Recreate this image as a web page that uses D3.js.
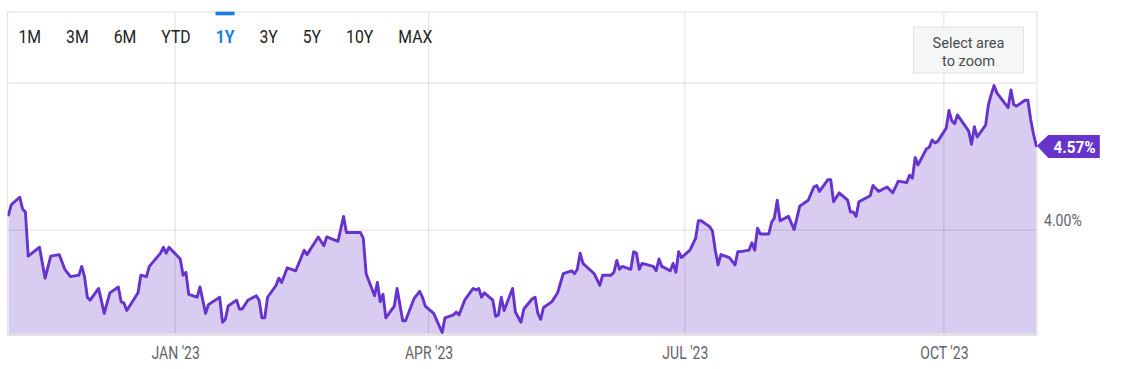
<!DOCTYPE html>
<html><head><meta charset="utf-8">
<script src="https://cdn.jsdelivr.net/npm/d3@7"></script>
<style>body{margin:0;background:#fff;} svg{display:block;font-family:Roboto,"Noto Sans",sans-serif;}</style>
</head><body><svg id="c" width="1147" height="369"></svg>
<script>
const dates = ["2022-11-03","2022-11-04","2022-11-07","2022-11-08","2022-11-09","2022-11-10","2022-11-14","2022-11-16","2022-11-18","2022-11-21","2022-11-23","2022-11-25","2022-11-28","2022-11-29","2022-11-30","2022-12-01","2022-12-02","2022-12-05","2022-12-07","2022-12-09","2022-12-12","2022-12-13","2022-12-14","2022-12-15","2022-12-19","2022-12-20","2022-12-22","2022-12-23","2022-12-27","2022-12-28","2022-12-29","2022-12-30","2023-01-03","2023-01-04","2023-01-05","2023-01-06","2023-01-09","2023-01-10","2023-01-12","2023-01-13","2023-01-17","2023-01-18","2023-01-19","2023-01-20","2023-01-23","2023-01-24","2023-01-25","2023-01-27","2023-01-30","2023-01-31","2023-02-01","2023-02-02","2023-02-03","2023-02-06","2023-02-07","2023-02-08","2023-02-10","2023-02-13","2023-02-16","2023-02-17","2023-02-21","2023-02-23","2023-02-24","2023-02-28","2023-03-02","2023-03-03","2023-03-06","2023-03-08","2023-03-09","2023-03-10","2023-03-13","2023-03-14","2023-03-15","2023-03-16","2023-03-17","2023-03-20","2023-03-21","2023-03-23","2023-03-24","2023-03-27","2023-03-29","2023-03-30","2023-03-31","2023-04-03","2023-04-06","2023-04-07","2023-04-10","2023-04-11","2023-04-12","2023-04-14","2023-04-17","2023-04-18","2023-04-19","2023-04-20","2023-04-21","2023-04-24","2023-04-25","2023-04-26","2023-04-27","2023-04-28","2023-05-01","2023-05-02","2023-05-04","2023-05-05","2023-05-08","2023-05-09","2023-05-10","2023-05-11","2023-05-12","2023-05-15","2023-05-17","2023-05-19","2023-05-22","2023-05-23","2023-05-24","2023-05-25","2023-05-26","2023-05-30","2023-06-01","2023-06-02","2023-06-05","2023-06-06","2023-06-07","2023-06-08","2023-06-09","2023-06-12","2023-06-13","2023-06-14","2023-06-15","2023-06-16","2023-06-20","2023-06-21","2023-06-22","2023-06-23","2023-06-26","2023-06-27","2023-06-28","2023-06-29","2023-06-30","2023-07-03","2023-07-05","2023-07-06","2023-07-07","2023-07-10","2023-07-11","2023-07-12","2023-07-13","2023-07-14","2023-07-17","2023-07-19","2023-07-20","2023-07-21","2023-07-24","2023-07-25","2023-07-26","2023-07-27","2023-07-28","2023-07-31","2023-08-01","2023-08-02","2023-08-03","2023-08-04","2023-08-07","2023-08-09","2023-08-11","2023-08-14","2023-08-16","2023-08-17","2023-08-18","2023-08-21","2023-08-22","2023-08-23","2023-08-25","2023-08-28","2023-08-29","2023-08-30","2023-08-31","2023-09-01","2023-09-05","2023-09-06","2023-09-08","2023-09-11","2023-09-13","2023-09-15","2023-09-18","2023-09-19","2023-09-20","2023-09-21","2023-09-22","2023-09-25","2023-09-26","2023-09-27","2023-09-28","2023-09-29","2023-10-02","2023-10-03","2023-10-04","2023-10-05","2023-10-06","2023-10-10","2023-10-11","2023-10-12","2023-10-13","2023-10-16","2023-10-17","2023-10-18","2023-10-19","2023-10-20","2023-10-24","2023-10-25","2023-10-26","2023-10-27","2023-10-30","2023-10-31","2023-11-01","2023-11-02","2023-11-03"];
const values = [4.10,4.17,4.22,4.14,4.12,3.82,3.88,3.67,3.82,3.83,3.73,3.68,3.69,3.75,3.68,3.54,3.52,3.60,3.43,3.57,3.61,3.51,3.50,3.45,3.57,3.69,3.68,3.75,3.84,3.88,3.84,3.88,3.80,3.69,3.71,3.56,3.54,3.61,3.43,3.49,3.54,3.37,3.39,3.48,3.52,3.46,3.46,3.52,3.55,3.52,3.40,3.40,3.54,3.62,3.67,3.64,3.74,3.72,3.86,3.83,3.95,3.89,3.95,3.92,4.09,3.98,3.98,3.98,3.94,3.70,3.55,3.64,3.51,3.56,3.40,3.48,3.60,3.38,3.38,3.53,3.58,3.54,3.48,3.43,3.30,3.40,3.42,3.44,3.42,3.52,3.60,3.59,3.60,3.54,3.57,3.52,3.41,3.42,3.54,3.45,3.60,3.44,3.37,3.46,3.53,3.54,3.43,3.39,3.47,3.51,3.57,3.70,3.72,3.70,3.73,3.84,3.77,3.70,3.62,3.69,3.69,3.71,3.79,3.73,3.75,3.73,3.85,3.84,3.73,3.77,3.75,3.72,3.80,3.75,3.72,3.77,3.71,3.85,3.81,3.86,3.94,4.06,4.06,4.02,3.99,3.86,3.76,3.83,3.81,3.76,3.85,3.85,3.86,3.91,3.86,4.01,3.97,3.97,4.05,4.08,4.20,4.06,4.09,4.00,4.16,4.20,4.29,4.30,4.26,4.34,4.34,4.19,4.25,4.20,4.12,4.12,4.09,4.19,4.23,4.30,4.26,4.29,4.25,4.33,4.32,4.37,4.35,4.49,4.44,4.55,4.56,4.61,4.59,4.60,4.69,4.81,4.74,4.72,4.78,4.67,4.58,4.70,4.63,4.71,4.85,4.92,4.98,4.93,4.83,4.95,4.85,4.84,4.88,4.88,4.75,4.65,4.57];
const rangeButtons = ["1M","3M","6M","YTD","1Y","3Y","5Y","10Y","MAX"];
const activeButton = "1Y";
const xTickDates = ["2023-01-01","2023-04-01","2023-07-01","2023-10-01"];
const yGridValues = [4.0, 5.0];
const yLabelValues = [4.0];
const zoomHint = ["Select area", "to zoom"];

const parse = d3.timeParse("%Y-%m-%d");
const data = dates.map((d, i) => ({ date: parse(d), value: values[i] }));

const svg = d3.select("#c");
const L = 7.5, R = 1037, T = 12, B = 334;
const x = d3.scaleTime().domain([data[0].date, data[data.length - 1].date]).range([8.5, 1036.3]);
const y = d3.scaleLinear().domain([3.29, 5.48]).range([B, T]);

const purple = "#6633cc";
const grid = "rgba(0,0,0,0.1)";

function txt(g, px, py, s, size, sx, anchor, fill, weight) {
  return g.append("text")
    .attr("transform", `translate(${px},${py}) scale(${sx},1)`)
    .attr("text-anchor", anchor)
    .attr("font-size", size)
    .attr("font-weight", weight || 400)
    .attr("fill", fill)
    .text(s);
}

// area + line
svg.append("defs").append("clipPath").attr("id", "clip")
  .append("rect").attr("x", L).attr("y", T).attr("width", R - L).attr("height", B - T);

const area = d3.area().x(d => x(d.date)).y0(B).y1(d => y(d.value));
const line = d3.line().x(d => x(d.date)).y(d => y(d.value));

svg.append("path").datum(data).attr("clip-path", "url(#clip)")
  .attr("d", area).attr("fill", "#d8ccf0");

// grid lines (vertical via axis)
const xg = svg.append("g").attr("transform", `translate(0,${B})`)
  .call(d3.axisBottom(x).tickValues(xTickDates.map(parse)).tickSize(-(B - T)).tickFormat(""));
xg.select(".domain").remove();
xg.selectAll(".tick line").attr("stroke", grid).attr("stroke-width", 1.2);

const yg = svg.append("g").attr("transform", `translate(${R},0)`)
  .call(d3.axisRight(y).tickValues(yGridValues).tickSize(-(R - L)).tickFormat(""));
yg.select(".domain").remove();
yg.selectAll(".tick line").attr("stroke", grid).attr("stroke-width", 1.2);

// frame
svg.append("rect").attr("x", L).attr("y", T).attr("width", R - L).attr("height", B - T)
  .attr("fill", "none").attr("stroke", "#e4e4e4").attr("stroke-width", 1.2);
svg.append("line").attr("x1", L).attr("x2", R).attr("y1", B + 1).attr("y2", B + 1)
  .attr("stroke", "#e2e2e2").attr("stroke-width", 2.2);

svg.append("path").datum(data).attr("clip-path", "url(#clip)")
  .attr("d", line).attr("fill", "none").attr("stroke", purple)
  .attr("stroke-width", 2.9).attr("stroke-linejoin", "round").attr("stroke-linecap", "round");

// x labels
const fmtX = d => d3.timeFormat("%b")(d).toUpperCase() + " '" + d3.timeFormat("%y")(d);
xTickDates.map(parse).forEach(d => {
  txt(svg, x(d) + 1, 359, fmtX(d), 17.5, 0.8, "middle", "#5f6368");
});

// y labels
yLabelValues.forEach(v => {
  txt(svg, 1044, y(v) - 3.5, d3.format(".2f")(v) + "%", 16, 0.88, "start", "#5f6368");
});

// range buttons
const bg = svg.append("g");
let cx = 18.5;
const gap = 25, bsx = 0.83, bsize = 19;
rangeButtons.forEach(b => {
  const active = b === activeButton;
  const t = txt(bg, cx, 42.5, b, bsize, bsx, "start", active ? "#1a7fe0" : "#222", active ? 700 : 400);
  const w = t.node().getComputedTextLength() * bsx;
  if (active) {
    bg.append("rect").attr("x", cx + w / 2 - 9.5).attr("y", 11.7).attr("width", 19).attr("height", 3.6)
      .attr("fill", "#1a7fe0");
  }
  cx += w + gap;
});

// zoom hint box
svg.append("rect").attr("x", 913.5).attr("y", 27).attr("width", 110).attr("height", 46)
  .attr("fill", "#f5f7f7").attr("stroke", "#e1e3e3").attr("stroke-width", 1);
zoomHint.forEach((s, i) => {
  txt(svg, 968.5, 47.6 + i * 17.9, s, 15, 0.97, "middle", "#4a4a4a");
});

// last value badge
const last = data[data.length - 1];
const tx = x(last.date) + 0.5, ty = y(last.value);
const bh = 23, notch = 11.5, bw = 51.5;
svg.append("path")
  .attr("d", `M${tx},${ty} L${tx + notch},${ty - 10.7} L${tx + notch + bw},${ty - 10.7} L${tx + notch + bw},${ty - 10.7 + bh} L${tx + notch},${ty - 10.7 + bh} Z`)
  .attr("fill", purple);
txt(svg, tx + notch + bw / 2 + 0.5, ty + 7.5, d3.format(".2f")(last.value) + "%", 17, 0.9, "middle", "#fff", 700);
</script></body></html>
